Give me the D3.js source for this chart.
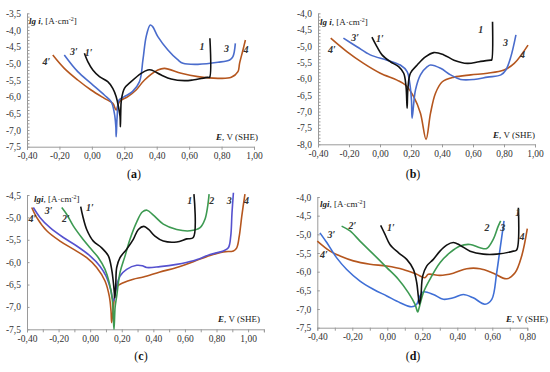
<!DOCTYPE html>
<html>
<head>
<meta charset="utf-8">
<script src="https://cdn.jsdelivr.net/npm/d3@7"></script>
<style>
body { margin: 0; background: #fff; }
text { font-family: "Liberation Serif", "Times New Roman", serif; fill: #222; }
.axis path, .axis line { stroke: #9a9a9a; stroke-width: 1; }
.axis text { font-family: "Liberation Serif", serif; font-size: 9.5px; fill: #333; }
</style>
</head>
<body>
<svg id="chart" width="550" height="372"></svg>
<script>
// curves: [E, V (SHE), lg i]  cathodic branch then anodic branch
// panel (a)
var a1 = [[-0.046,-4.70],[-0.025,-4.95],[0.006,-5.2],[0.047,-5.4],[0.098,-5.55],[0.129,-5.75],[0.15,-6.0],[0.164,-6.3],[0.174,-6.6],[0.176,-6.9],[0.178,-6.5],[0.182,-6.1],[0.201,-5.75],[0.242,-5.55],[0.304,-5.3],[0.345,-5.2],[0.366,-5.2],[0.428,-5.35],[0.489,-5.47],[0.572,-5.52],[0.623,-5.5],[0.716,-5.42],[0.726,-5.42],[0.728,-4.25]]
var a3 = [[-0.170,-4.75],[-0.087,-5.25],[-0.005,-5.6],[0.077,-5.95],[0.119,-6.15],[0.139,-6.5],[0.148,-6.9],[0.150,-7.2],[0.156,-6.6],[0.168,-6.1],[0.2,-6.0],[0.25,-5.85],[0.294,-5.55],[0.315,-4.9],[0.335,-4.2],[0.36,-3.85],[0.375,-3.9],[0.407,-4.2],[0.469,-4.6],[0.531,-4.9],[0.562,-5.0],[0.654,-5.03],[0.778,-4.97],[0.85,-4.9],[0.87,-4.8],[0.885,-4.4]]
var a4 = [[-0.241,-4.75],[-0.170,-5.15],[-0.087,-5.5],[-0.005,-5.8],[0.077,-6.05],[0.129,-6.2],[0.15,-6.4],[0.17,-6.15],[0.222,-6.0],[0.273,-5.8],[0.325,-5.5],[0.407,-5.2],[0.448,-5.15],[0.551,-5.3],[0.654,-5.4],[0.778,-5.45],[0.86,-5.42],[0.901,-5.25],[0.911,-5.0],[0.932,-4.6],[0.947,-4.3]]
// panel (b)
var b1 = [[-0.052,-4.73],[-0.02,-5.02],[0.013,-5.27],[0.067,-5.48],[0.12,-5.63],[0.153,-5.83],[0.168,-6.24],[0.175,-6.9],[0.18,-6.3],[0.196,-5.83],[0.24,-5.58],[0.293,-5.33],[0.347,-5.2],[0.412,-5.27],[0.477,-5.43],[0.564,-5.53],[0.639,-5.48],[0.715,-5.43],[0.72,-5.43],[0.726,-4.26]]
var b3 = [[-0.236,-4.76],[-0.149,-5.02],[-0.063,-5.27],[0.045,-5.43],[0.131,-5.58],[0.175,-5.78],[0.192,-6.14],[0.203,-6.65],[0.207,-7.2],[0.229,-6.34],[0.261,-5.88],[0.305,-5.63],[0.326,-5.58],[0.391,-5.68],[0.455,-5.88],[0.52,-6.02],[0.606,-6.02],[0.693,-5.95],[0.78,-5.88],[0.812,-5.73],[0.844,-5.33],[0.877,-4.66]]
var b4 = [[-0.318,-4.76],[-0.214,-5.17],[-0.106,-5.53],[0.002,-5.83],[0.11,-6.04],[0.164,-6.19],[0.218,-6.55],[0.261,-7.05],[0.297,-7.85],[0.326,-7.05],[0.358,-6.44],[0.402,-6.09],[0.477,-5.95],[0.585,-5.88],[0.693,-5.83],[0.80,-5.73],[0.866,-5.53],[0.955,-4.97]]
// panel (c)
var c1 = [[-0.06,-4.76],[-0.047,-4.97],[-0.022,-5.27],[0.02,-5.53],[0.073,-5.68],[0.115,-5.86],[0.136,-6.16],[0.147,-6.46],[0.153,-6.68],[0.156,-6.8],[0.162,-6.5],[0.168,-6.12],[0.189,-5.9],[0.231,-5.71],[0.273,-5.49],[0.305,-5.27],[0.34,-5.2],[0.37,-5.27],[0.41,-5.42],[0.463,-5.53],[0.548,-5.55],[0.611,-5.48],[0.653,-5.45],[0.657,-4.48]]
var c2 = [[-0.18,-4.78],[-0.149,-4.93],[-0.107,-5.19],[-0.054,-5.45],[-0.001,-5.68],[0.052,-5.9],[0.094,-6.16],[0.121,-6.46],[0.14,-6.83],[0.147,-7.28],[0.151,-7.5],[0.158,-7.0],[0.168,-6.76],[0.189,-6.23],[0.221,-5.86],[0.252,-5.49],[0.295,-5.1],[0.33,-4.88],[0.36,-4.84],[0.40,-4.95],[0.463,-5.15],[0.548,-5.27],[0.632,-5.3],[0.696,-5.23],[0.727,-5.04],[0.744,-4.75],[0.753,-4.48]]
var c3 = [[-0.36,-4.78],[-0.318,-5.0],[-0.254,-5.23],[-0.17,-5.45],[-0.085,-5.64],[-0.001,-5.86],[0.062,-6.09],[0.1,-6.31],[0.13,-6.61],[0.147,-6.87],[0.168,-6.53],[0.189,-6.31],[0.231,-6.16],[0.295,-6.07],[0.33,-6.08],[0.358,-6.12],[0.442,-6.1],[0.548,-6.05],[0.653,-5.97],[0.759,-5.83],[0.843,-5.75],[0.875,-5.68],[0.89,-5.42],[0.898,-4.9],[0.907,-4.45]]
var c4 = [[-0.37,-4.78],[-0.339,-5.0],[-0.275,-5.3],[-0.191,-5.53],[-0.107,-5.71],[-0.022,-5.9],[0.041,-6.12],[0.094,-6.42],[0.121,-6.76],[0.132,-7.09],[0.136,-7.35],[0.15,-6.9],[0.168,-6.55],[0.21,-6.46],[0.273,-6.38],[0.337,-6.33],[0.442,-6.22],[0.548,-6.12],[0.653,-5.99],[0.759,-5.85],[0.843,-5.77],[0.907,-5.75],[0.928,-5.68],[0.944,-5.42],[0.96,-4.97],[0.98,-4.48]]
// panel (d)
var d1 = [[-0.038,-4.76],[-0.013,-5.0],[0.015,-5.27],[0.063,-5.49],[0.111,-5.67],[0.149,-5.94],[0.168,-6.29],[0.177,-6.65],[0.183,-6.87],[0.191,-6.7],[0.202,-6.12],[0.225,-5.85],[0.263,-5.67],[0.301,-5.45],[0.339,-5.29],[0.377,-5.22],[0.415,-5.29],[0.473,-5.45],[0.549,-5.53],[0.625,-5.53],[0.72,-5.45],[0.739,-5.42],[0.749,-4.29]]
var d2 = [[-0.261,-4.78],[-0.213,-4.91],[-0.156,-5.18],[-0.08,-5.53],[-0.003,-5.89],[0.063,-6.2],[0.12,-6.56],[0.158,-6.87],[0.174,-7.08],[0.18,-7.0],[0.206,-6.56],[0.244,-6.2],[0.301,-5.76],[0.358,-5.49],[0.415,-5.31],[0.473,-5.27],[0.53,-5.36],[0.568,-5.38],[0.606,-5.13],[0.634,-4.78],[0.648,-4.64]]
var d3c = [[-0.385,-4.96],[-0.346,-5.22],[-0.289,-5.63],[-0.232,-5.94],[-0.156,-6.25],[-0.08,-6.47],[-0.003,-6.65],[0.073,-6.83],[0.139,-6.94],[0.168,-6.87],[0.187,-6.65],[0.206,-6.54],[0.263,-6.61],[0.32,-6.74],[0.377,-6.7],[0.434,-6.61],[0.491,-6.7],[0.558,-6.87],[0.597,-6.74],[0.625,-6.03],[0.644,-5.4],[0.667,-4.64]]
var d4 = [[-0.4,-5.18],[-0.327,-5.45],[-0.27,-5.58],[-0.194,-5.71],[-0.099,-5.8],[-0.003,-5.85],[0.091,-5.94],[0.168,-6.07],[0.215,-6.16],[0.234,-6.07],[0.301,-6.1],[0.377,-6.04],[0.454,-5.92],[0.53,-5.92],[0.606,-6.04],[0.682,-6.19],[0.73,-6.03],[0.768,-5.58],[0.80,-4.85]]

// curve labels  [text, E, lg i]
var aLabels = [["4′",-0.28,-5.05],["3′",-0.11,-4.75],["1′",-0.02,-4.78],["1",0.68,-4.6],["3",0.83,-4.65],["4",0.95,-4.7]]
var bLabels = [["4′",-0.31,-5.22],["3′",-0.16,-4.86],["1′",0.0,-4.89],["1",0.65,-4.6],["3",0.81,-5.0],["4",0.92,-5.35]]
var cLabels = [["4′",-0.365,-5.1],["3′",-0.263,-4.93],["2′",-0.153,-5.1],["1′",-0.002,-4.85],["1",0.63,-4.69],["2",0.77,-4.69],["3",0.88,-4.69],["4",0.99,-4.69]]
var dLabels = [["3′",-0.32,-5.1],["4′",-0.362,-5.64],["2′",-0.2,-4.86],["1′",0.02,-4.92],["2",0.57,-4.9],["3",0.66,-4.9],["1",0.745,-4.52],["4",0.77,-5.15]]

var col = { k: '#111111', b: '#4a6ccc', o: '#b5561e', g: '#3d9a52', p: '#5652cf' }

var panels = [
  { id: 'a', xr: [27, 254], yr: [146.7, 13.3], xd: [-0.4, 1.0], yd: [-7.5, -3.5], xStep: 0.2, yMinor: true, ylab: 'lg i', sub: [134, 178],
    ytitle: [29, 24], xtitle: [258, 140], curves: [[a4, col.o], [a3, col.b], [a1, col.k]], labels: aLabels },
  { id: 'b', xr: [318, 535], yr: [144.3, 13.3], xd: [-0.4, 1.0], yd: [-8.0, -4.0], xStep: 0.2, yMinor: true, ylab: 'lg i', sub: [413, 178],
    ytitle: [320, 25], xtitle: [535, 138], curves: [[b4, col.o], [b3, col.b], [b1, col.k]], labels: bLabels },
  { id: 'c', xr: [27, 263.9], yr: [329.3, 195], xd: [-0.4, 1.1], yd: [-7.5, -4.5], xStep: 0.1, yMinor: false, ylab: 'lgi', sub: [141, 360],
    ytitle: [34, 202], xtitle: [260, 322], curves: [[c4, col.o], [c3, col.p], [c2, col.g], [c1, col.k]], labels: cLabels },
  { id: 'd', xr: [317.3, 527.3], yr: [327.7, 197], xd: [-0.4, 0.8], yd: [-7.5, -4.0], xStep: 0.1, yMinor: false, ylab: 'lgi', sub: [413, 360],
    ytitle: [320, 207], xtitle: [548, 322], curves: [[d4, col.o], [d3c, '#3f6fd6'], [d2, col.g], [d1, col.k]], labels: dLabels }
]

var svg = d3.select('#chart')
var fmt = function (v, n) { return v.toFixed(n).replace('.', ',') }

panels.forEach(function (p) {
  var x = d3.scaleLinear().domain(p.xd).range(p.xr)
  var y = d3.scaleLinear().domain(p.yd).range(p.yr)
  var g = svg.append('g')

  // x ticks
  var xt = d3.range(Math.round((p.xd[1] - p.xd[0]) / p.xStep) + 1).map(function (i) { return +(p.xd[0] + i * p.xStep).toFixed(2) })
  g.append('g').attr('class', 'axis')
      .attr('transform', 'translate(0,' + y(p.yd[0]) + ')')
      .call(d3.axisBottom(x).tickValues(xt).tickSize(3).tickPadding(3)
        .tickFormat(function (d) { return (Math.round(d * 10) % 2 === 0 && d <= 1.0001) ? fmt(d, 2) : '' }))

  // y ticks
  var yt = d3.range(Math.round((p.yd[1] - p.yd[0]) / 0.5) + 1).map(function (i) { return p.yd[0] + i * 0.5 })
  g.append('g').attr('class', 'axis')
      .attr('transform', 'translate(' + x(p.xd[0]) + ',0)')
      .call(d3.axisLeft(y).tickValues(yt).tickSize(0).tickPadding(6).tickFormat(function (d) { return fmt(d, 1) }))
  var ym = p.yMinor ? d3.range(Math.round((p.yd[1] - p.yd[0]) / 0.1) + 1).map(function (i) { return p.yd[0] + i * 0.1 }) : yt
  g.append('g').attr('class', 'axis')
      .attr('transform', 'translate(' + x(p.xd[0]) + ',0)')
      .call(d3.axisRight(y).tickValues(ym).tickSize(2.5).tickFormat(''))
    .select('.domain').remove()

  // curves
  var line = d3.line()
      .x(function (d) { return x(d[0]) })
      .y(function (d) { return y(d[1]) })
      .curve(d3.curveCatmullRom.alpha(0.5))
  p.curves.forEach(function (c) {
    g.append('path')
        .datum(c[0])
        .attr('d', line)
        .attr('fill', 'none')
        .attr('stroke', c[1])
        .attr('stroke-width', 1.6)
        .attr('stroke-linejoin', 'round')
  })

  // curve labels
  g.selectAll('.lbl')
      .data(p.labels)
      .enter()
    .append('text')
      .attr('x', function (d) { return x(d[1]) })
      .attr('y', function (d) { return y(d[2]) })
      .attr('text-anchor', 'middle')
      .style('font-size', '10px')
      .style('font-style', 'italic')
      .style('font-weight', 'bold')
      .style('fill', '#333')
      .text(function (d) { return d[0] })

  // axis titles
  var yt1 = g.append('text').attr('x', p.ytitle[0]).attr('y', p.ytitle[1]).style('font-size', '9px')
  yt1.append('tspan').style('font-style', 'italic').style('font-weight', 'bold').text(p.ylab)
  yt1.append('tspan').text(', [A·cm')
  yt1.append('tspan').attr('dy', -3).style('font-size', '6px').text('-2')
  yt1.append('tspan').attr('dy', 3).text(']')

  var xt1 = g.append('text').attr('x', p.xtitle[0]).attr('y', p.xtitle[1]).attr('text-anchor', 'end').style('font-size', '9px')
  xt1.append('tspan').style('font-style', 'italic').style('font-weight', 'bold').text('E')
  xt1.append('tspan').text(', V (SHE)')

  // panel caption
  var cap = g.append('text').attr('x', p.sub[0]).attr('y', p.sub[1]).attr('text-anchor', 'middle').style('font-size', '12px').style('fill', '#111')
  cap.append('tspan').text('(')
  cap.append('tspan').style('font-weight', 'bold').text(p.id)
  cap.append('tspan').text(')')
})
</script>
</body>
</html>
